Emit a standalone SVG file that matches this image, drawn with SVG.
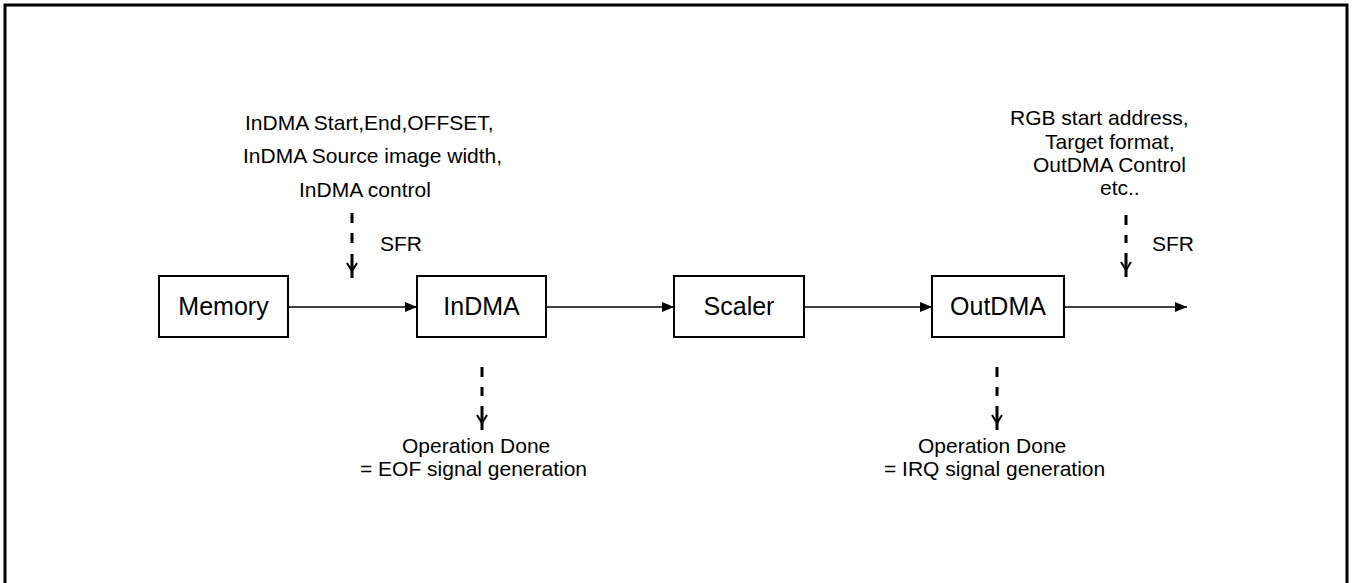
<svg xmlns="http://www.w3.org/2000/svg" width="1354" height="583" viewBox="0 0 1354 583">
  <style>
    .box { fill: #ffffff; stroke: #000000; stroke-width: 2; }
    .lbl { font-family: "Liberation Sans", Arial, sans-serif; font-size: 25px; fill: #000000; text-anchor: middle; }
    .ann { font-family: "Liberation Sans", Arial, sans-serif; font-size: 21px; fill: #000000; }
    .flow { stroke: #000000; stroke-width: 1.5; fill: none; marker-end: url(#tri); }
    .dash { stroke: #000000; stroke-width: 3; fill: none; stroke-dasharray: 10 10; }
    .stem { stroke: #000000; stroke-width: 3; fill: none; }
    .arms { stroke: #000000; stroke-width: 2; fill: none; }
  </style>
  <defs>
    <marker id="tri" markerUnits="userSpaceOnUse" markerWidth="12" markerHeight="10" refX="12" refY="5" orient="auto">
      <path d="M0,0 L12,5 L0,10 Z" fill="#000000"/>
    </marker>
    <g id="yhead">
      <path class="stem" d="M0,-24 V0"/>
      <path class="arms" d="M-5,-15 L0,-7 L5,-15"/>
    </g>
  </defs>

  <rect x="5" y="5" width="1342" height="600" fill="#ffffff" stroke="#000000" stroke-width="3"/>

  <g id="memory">
    <rect class="box" x="159" y="276" width="129" height="61"/>
    <text class="lbl" x="223.5" y="315">Memory</text>
  </g>
  <g id="indma">
    <rect class="box" x="417" y="276" width="129" height="61"/>
    <text class="lbl" x="481.5" y="315">InDMA</text>
  </g>
  <g id="scaler">
    <rect class="box" x="674" y="276" width="130" height="61"/>
    <text class="lbl" x="739" y="315">Scaler</text>
  </g>
  <g id="outdma">
    <rect class="box" x="932" y="276" width="132" height="61"/>
    <text class="lbl" x="998" y="315">OutDMA</text>
  </g>

  <g id="indma-sfr-note">
    <text class="ann" x="245" y="130">InDMA Start,End,OFFSET,</text>
    <text class="ann" x="243" y="163">InDMA Source image width,</text>
    <text class="ann" x="299" y="197">InDMA control</text>
    <text class="ann" x="380" y="251">SFR</text>
  </g>
  <g id="outdma-sfr-note">
    <text class="ann" x="1010" y="125">RGB start address,</text>
    <text class="ann" x="1045" y="149">Target format,</text>
    <text class="ann" x="1033" y="172">OutDMA Control</text>
    <text class="ann" x="1100" y="195">etc..</text>
    <text class="ann" x="1152" y="251">SFR</text>
  </g>
  <g id="eof-note">
    <text class="ann" x="402" y="453">Operation Done</text>
    <text class="ann" x="360" y="476">= EOF signal generation</text>
  </g>
  <g id="irq-note">
    <text class="ann" x="918" y="453">Operation Done</text>
    <text class="ann" x="884" y="476">= IRQ signal generation</text>
  </g>

  <g id="connectors">
    <line class="flow" x1="288" y1="307" x2="417" y2="307"/>
    <line class="flow" x1="546" y1="307" x2="674" y2="307"/>
    <line class="flow" x1="804" y1="307" x2="932" y2="307"/>
    <line class="flow" x1="1064" y1="307" x2="1187" y2="307"/>

    <line class="dash" x1="352" y1="213" x2="352" y2="244"/>
    <use href="#yhead" x="352" y="278"/>

    <line class="dash" x1="1126" y1="215" x2="1126" y2="243"/>
    <use href="#yhead" x="1126" y="277"/>

    <line class="dash" x1="482" y1="367" x2="482" y2="396"/>
    <use href="#yhead" x="482" y="430"/>

    <line class="dash" x1="997" y1="367" x2="997" y2="396"/>
    <use href="#yhead" x="997" y="430"/>
  </g>
</svg>
